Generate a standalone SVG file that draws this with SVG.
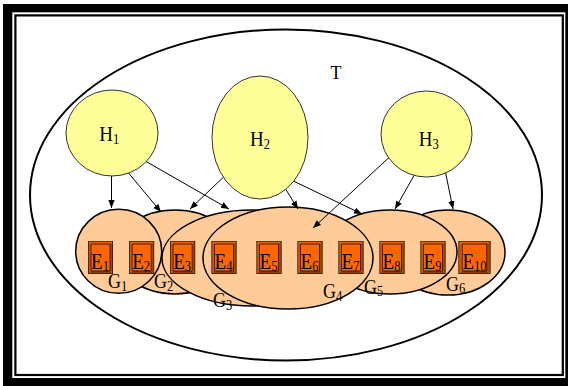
<svg xmlns="http://www.w3.org/2000/svg" xmlns:xlink="http://www.w3.org/1999/xlink" width="568" height="386" viewBox="0 0 568 386">
  <style>
    .lbl { font-family: "Liberation Serif", "Times New Roman", serif; fill: #000; }
    .sub { font-size: 12.5px; }
    .hyp { fill: #FFFF99; stroke: #333; stroke-width: 1; }
    .grp { fill: #FFCC99; stroke: #000; stroke-width: 1.5; }
    .edge { stroke: #000; stroke-width: 1; fill: none; marker-end: url(#arrow); }
  </style>
  <defs>
    <marker id="arrow" markerUnits="userSpaceOnUse" markerWidth="8" markerHeight="8" viewBox="0 0 8 8" refX="8" refY="4" orient="auto">
      <path d="M0,0.8 L8,4 L0,7.2 Z" fill="#000"/>
    </marker>
    <!-- bevelled orange button used for every E box -->
    <symbol id="btn" viewBox="0 0 25 33" preserveAspectRatio="none">
      <polygon points="0,0 25,0 22,3 3,3" fill="#E86000"/>
      <polygon points="0,0 3,3 3,30 0,33" fill="#D05500"/>
      <polygon points="25,0 25,33 22,30 22,3" fill="#A84400"/>
      <polygon points="0,33 3,30 22,30 25,33" fill="#963C00"/>
      <rect x="3" y="3" width="19" height="27" fill="#FF6600" stroke="#000" stroke-width="0.7" vector-effect="non-scaling-stroke"/>
      <rect x="0" y="0" width="25" height="33" fill="none" stroke="#000" stroke-width="1.2" vector-effect="non-scaling-stroke"/>
    </symbol>
  </defs>

  <!-- double frame -->
  <rect x="0" y="0" width="568" height="386" fill="#fff"/>
  <rect x="3" y="4" width="565" height="382" fill="#000"/>
  <rect x="12.3" y="12.3" width="553" height="365.7" fill="#fff"/>
  <rect x="15.4" y="15.4" width="547.4" height="359.6" fill="none" stroke="#000" stroke-width="2.2"/>

  <g id="T">
    <ellipse cx="286" cy="195" rx="256" ry="165.5" fill="none" stroke="#000" stroke-width="2"/>
    <text class="lbl" x="336" y="79.3" font-size="18" text-anchor="middle">T</text>
  </g>

  <!-- groups, back to front -->
  <g id="G6">
    <ellipse class="grp" cx="448" cy="252.5" rx="57" ry="42.5"/>
    <text class="lbl" transform="translate(446,290.5) scale(1,1.15)" font-size="18">G<tspan class="sub" dy="2">6</tspan></text>
  </g>
  <g id="G5">
    <ellipse class="grp" cx="390" cy="252" rx="67" ry="42"/>
    <text class="lbl" transform="translate(364,294) scale(1,1.15)" font-size="18">G<tspan class="sub" dy="2">5</tspan></text>
  </g>
  <g id="G2">
    <ellipse class="grp" cx="175" cy="252" rx="59" ry="42"/>
    <text class="lbl" transform="translate(154,288.3) scale(1,1.15)" font-size="18">G<tspan class="sub" dy="2">2</tspan></text>
  </g>
  <g id="G1">
    <ellipse class="grp" cx="118.7" cy="251.3" rx="43" ry="42"/>
    <text class="lbl" transform="translate(108,288.3) scale(1,1.15)" font-size="18">G<tspan class="sub" dy="2">1</tspan></text>
  </g>
  <g id="G3">
    <ellipse class="grp" cx="252" cy="258" rx="90" ry="48"/>
    <text class="lbl" transform="translate(213,307.3) scale(1,1.15)" font-size="18">G<tspan class="sub" dy="2">3</tspan></text>
  </g>
  <g id="G4">
    <ellipse class="grp" cx="288" cy="258" rx="85" ry="51"/>
    <text class="lbl" transform="translate(323,298.3) scale(1,1.15)" font-size="18">G<tspan class="sub" dy="2">4</tspan></text>
  </g>

  <!-- elements -->
  <g id="E1"><use xlink:href="#btn" x="88" y="241" width="25" height="33"/>
    <text class="lbl" transform="translate(100,269) scale(1,1.2)" font-size="19" text-anchor="middle">E<tspan class="sub" dy="2">1</tspan></text></g>
  <g id="E2"><use xlink:href="#btn" x="129.2" y="241" width="25" height="33"/>
    <text class="lbl" transform="translate(141.2,269) scale(1,1.2)" font-size="19" text-anchor="middle">E<tspan class="sub" dy="2">2</tspan></text></g>
  <g id="E3"><use xlink:href="#btn" x="170.2" y="241" width="25" height="33"/>
    <text class="lbl" transform="translate(182.2,269) scale(1,1.2)" font-size="19" text-anchor="middle">E<tspan class="sub" dy="2">3</tspan></text></g>
  <g id="E4"><use xlink:href="#btn" x="211.5" y="241" width="25" height="33"/>
    <text class="lbl" transform="translate(223.5,269) scale(1,1.2)" font-size="19" text-anchor="middle">E<tspan class="sub" dy="2">4</tspan></text></g>
  <g id="E5"><use xlink:href="#btn" x="256.5" y="241" width="25" height="33"/>
    <text class="lbl" transform="translate(268.5,269) scale(1,1.2)" font-size="19" text-anchor="middle">E<tspan class="sub" dy="2">5</tspan></text></g>
  <g id="E6"><use xlink:href="#btn" x="297.5" y="241" width="25" height="33"/>
    <text class="lbl" transform="translate(309.5,269) scale(1,1.2)" font-size="19" text-anchor="middle">E<tspan class="sub" dy="2">6</tspan></text></g>
  <g id="E7"><use xlink:href="#btn" x="338.5" y="241" width="25" height="33"/>
    <text class="lbl" transform="translate(350.5,269) scale(1,1.2)" font-size="19" text-anchor="middle">E<tspan class="sub" dy="2">7</tspan></text></g>
  <g id="E8"><use xlink:href="#btn" x="379.5" y="241" width="25" height="33"/>
    <text class="lbl" transform="translate(391.5,269) scale(1,1.2)" font-size="19" text-anchor="middle">E<tspan class="sub" dy="2">8</tspan></text></g>
  <g id="E9"><use xlink:href="#btn" x="420.5" y="241" width="25" height="33"/>
    <text class="lbl" transform="translate(432.5,269) scale(1,1.2)" font-size="19" text-anchor="middle">E<tspan class="sub" dy="2">9</tspan></text></g>
  <g id="E10"><use xlink:href="#btn" x="458.5" y="241" width="32" height="33"/>
    <text class="lbl" transform="translate(474.5,269) scale(1,1.2)" font-size="19" text-anchor="middle">E<tspan class="sub" dy="2">10</tspan></text></g>

  <!-- connectors -->
  <g id="connectors">
    <line class="edge" x1="111.5" y1="170" x2="111.5" y2="208"/>
    <line class="edge" x1="126" y1="170" x2="161" y2="212"/>
    <line class="edge" x1="140" y1="158" x2="229" y2="209"/>
    <line class="edge" x1="232" y1="169" x2="190" y2="209"/>
    <line class="edge" x1="280" y1="180" x2="298" y2="209"/>
    <line class="edge" x1="285" y1="177" x2="362" y2="214"/>
    <line class="edge" x1="396" y1="151" x2="313" y2="228"/>
    <line class="edge" x1="420" y1="165" x2="395" y2="209"/>
    <line class="edge" x1="444" y1="165" x2="453" y2="209"/>
  </g>

  <!-- hypotheses -->
  <g id="H1">
    <ellipse class="hyp" cx="112" cy="133" rx="46" ry="43"/>
    <text class="lbl" transform="translate(99.3,141) scale(1,1.1)" font-size="19">H<tspan class="sub" dy="2.5">1</tspan></text>
  </g>
  <g id="H2">
    <ellipse class="hyp" cx="260" cy="137.5" rx="48" ry="61.5"/>
    <text class="lbl" transform="translate(250,146) scale(1,1.1)" font-size="19">H<tspan class="sub" dy="2.5">2</tspan></text>
  </g>
  <g id="H3">
    <ellipse class="hyp" cx="426.5" cy="134" rx="45.5" ry="43"/>
    <text class="lbl" transform="translate(418.7,146) scale(1,1.1)" font-size="19">H<tspan class="sub" dy="2.5">3</tspan></text>
  </g>
</svg>
